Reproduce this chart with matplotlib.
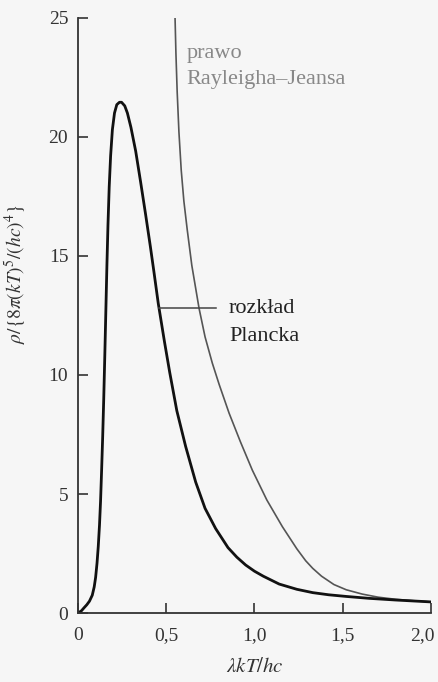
import matplotlib.pyplot as plt
import matplotlib.transforms as mtransforms

plt.rcParams['font.family'] = ['Liberation Serif', 'DejaVu Serif']
plt.rcParams['mathtext.fontset'] = 'stix'

# values
planck_x = [0.0, 0.02, 0.034, 0.05, 0.065, 0.081, 0.092, 0.10, 0.108, 0.115,
            0.122, 0.128, 0.134, 0.14, 0.146, 0.152, 0.158, 0.164, 0.17, 0.177,
            0.185, 0.195, 0.207, 0.22, 0.235, 0.247, 0.265, 0.28, 0.30, 0.327,
            0.355, 0.383, 0.41, 0.43, 0.455, 0.49, 0.52, 0.56, 0.61, 0.667,
            0.72, 0.78, 0.85, 0.90, 0.95, 1.0, 1.05, 1.14, 1.24, 1.33, 1.42,
            1.52, 1.65, 1.8, 2.0]
planck_y = [0.0, 0.1, 0.22, 0.35, 0.5, 0.75, 1.1, 1.5, 2.1, 2.8,
            3.7, 4.7, 6.0, 7.4, 9.0, 10.8, 12.7, 14.6, 16.3, 17.9,
            19.2, 20.3, 21.0, 21.35, 21.45, 21.45, 21.3, 21.0, 20.4, 19.4,
            18.1, 16.75, 15.4, 14.35, 13.0, 11.4, 10.1, 8.5, 7.0, 5.5,
            4.4, 3.55, 2.75, 2.35, 2.02, 1.76, 1.55, 1.22, 1.0, 0.86, 0.77,
            0.7, 0.62, 0.55, 0.47]

rj_x = [0.55, 0.555, 0.562, 0.572, 0.585, 0.60, 0.619, 0.645, 0.686, 0.72,
        0.761, 0.80, 0.856, 0.92, 0.988, 1.07, 1.158, 1.24, 1.29, 1.33, 1.38,
        1.45, 1.52, 1.61, 1.7, 1.8, 1.9, 2.0]
rj_y = [25.0, 23.5, 21.9, 20.2, 18.6, 17.3, 16.1, 14.6, 12.8, 11.6,
        10.5, 9.6, 8.4, 7.2, 6.0, 4.75, 3.63, 2.7, 2.2, 1.88, 1.55,
        1.2, 0.98, 0.8, 0.67, 0.58, 0.52, 0.47]

xticks = [0, 0.5, 1.0, 1.5, 2.0]
xtick_labels = ['0', '0,5', '1,0', '1,5', '2,0']
yticks = [0, 5, 10, 15, 20, 25]

bg = '#f6f6f6'
fig = plt.figure(figsize=(4.38, 6.82), dpi=100, facecolor=bg)
ax = fig.add_axes([0.178, 0.101, 0.806, 0.873], facecolor=bg)

ax.plot(rj_x, rj_y, color='#555555', lw=1.2, solid_capstyle='butt')
ax.plot(planck_x, planck_y, color='#111111', lw=2.0)

# label for Planck curve
ax.plot([0.46, 0.78], [12.8, 12.8], color='#444444', lw=1.1)
ax.text(0.855, 12.8, 'rozkład', fontsize=16, color='#222222',
        va='center', ha='left')
ax.text(0.855, 11.6, 'Plancka', fontsize=16, color='#222222',
        va='center', ha='left')
ax.text(0.617, 23.5, 'prawo', fontsize=16, color='#888888',
        va='center', ha='left')
ax.text(0.617, 22.4, 'Rayleigha–Jeansa', fontsize=16, color='#888888',
        va='center', ha='left')

ax.set_xlim(0, 2.0)
ax.set_ylim(0, 25)
ax.set_xticks(xticks)
ax.set_xticklabels(xtick_labels)
ax.set_yticks(yticks)
ax.tick_params(direction='in', length=7, width=1.2, labelsize=14,
               colors='#333333')
ax.tick_params(axis='x', pad=10)
ax.tick_params(axis='y', pad=7)
for side in ['top', 'right']:
    ax.spines[side].set_visible(False)
for side in ['left', 'bottom']:
    ax.spines[side].set_linewidth(1.3)
    ax.spines[side].set_color('#333333')

# nudge the last x label so it stays inside the figure
last = ax.get_xticklabels()[-1]
last.set_transform(last.get_transform() +
                   mtransforms.ScaledTranslation(-6 / 72, 0, fig.dpi_scale_trans))

ax.set_xlabel(r'$\lambda kT/hc$', fontsize=15, color='#333333', labelpad=10)
ax.set_ylabel(r'$\rho/\{8\pi(kT)^5/(hc)^4\}$', fontsize=14, color='#333333')
ax.yaxis.set_label_coords(-0.14, 0.57)

fig.savefig('out.png', dpi=100, facecolor=bg)
